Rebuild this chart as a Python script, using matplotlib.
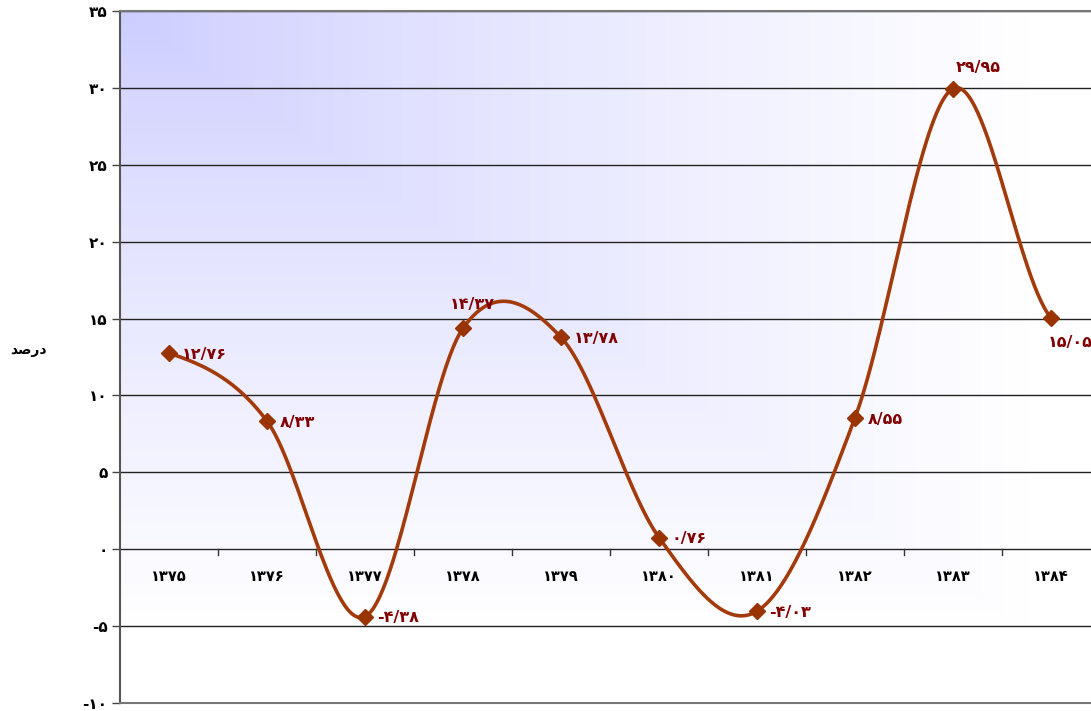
import numpy as np
import matplotlib
matplotlib.use("Agg")
import matplotlib.pyplot as plt

# ---- data ----
years = ["۱۳۷۵", "۱۳۷۶", "۱۳۷۷", "۱۳۷۸", "۱۳۷۹", "۱۳۸۰", "۱۳۸۱", "۱۳۸۲", "۱۳۸۳", "۱۳۸۴"]
values = [12.76, 8.33, -4.38, 14.37, 13.78, 0.76, -4.03, 8.55, 29.95, 15.05]
value_labels = ["۱۲/۷۶", "۸/۳۳", "-۴/۳۸", "۱۴/۳۷", "۱۳/۷۸", "۰/۷۶", "-۴/۰۳", "۸/۵۵", "۲۹/۹۵", "۱۵/۰۵"]
y_ticks = [-10, -5, 0, 5, 10, 15, 20, 25, 30, 35]
y_tick_labels = ["-۱۰", "-۵", "۰", "۵", "۱۰", "۱۵", "۲۰", "۲۵", "۳۰", "۳۵"]
y_title = "\uFEAA\uFEBB\u0631\u062F"  # درصد (shaped, visual order)

# label placement (offset in points, alignment)
label_pos = {3: ((7, 17), "center", "center"),
             8: ((18, 15), "center", "center"),
             9: ((14, -18), "center", "center")}

FONT = ["DejaVu Sans"]
W, H = 1091, 711
fig = plt.figure(figsize=(W / 100, H / 100), dpi=100)
ax = fig.add_axes([120 / W, (H - 703) / H, 980 / W, 692 / H])

x = np.arange(len(values))
y = np.array(values, dtype=float)
ax.set_xlim(-0.5, len(values) - 0.5)

# background gradient (from top-left corner)
gx = np.linspace(0, 1, 400)
gy = np.linspace(0, 1, 400)
GX, GY = np.meshgrid(gx, gy)  # row 0 = top
t = np.clip(np.maximum(GX * 1.08, GY * 1.12), 0, 1) ** 0.8
c0 = np.array([204, 204, 255]) / 255.0
c1 = np.array([255, 255, 255]) / 255.0
img = c0[None, None, :] * (1 - t[..., None]) + c1[None, None, :] * t[..., None]
ax.imshow(img, extent=(-0.5, len(values) - 0.5, -10, 35), aspect="auto", zorder=0,
          interpolation="bilinear", origin="upper")
ax.set_ylim(-10, 35)

# gridlines
for v in y_ticks:
    ax.axhline(v, color="#222222", lw=1.0, zorder=1)

# x-axis at 0 with tick marks at category boundaries
for b in x[:-1] + 0.5:
    ax.plot([b, b], [0, -0.4], color="#333333", lw=1.0, zorder=1)

# smooth curve (Catmull-Rom / Excel smoothing)
n = len(y)
m = np.zeros(n)
for i in range(n):
    lo = max(i - 1, 0)
    hi = min(i + 1, n - 1)
    m[i] = (y[hi] - y[lo]) / 2.0
xs, ys = [], []
for i in range(n - 1):
    s = np.linspace(0, 1, 60)
    h00 = 2 * s**3 - 3 * s**2 + 1
    h10 = s**3 - 2 * s**2 + s
    h01 = -2 * s**3 + 3 * s**2
    h11 = s**3 - s**2
    xs.append(x[i] + s)
    ys.append(h00 * y[i] + h10 * m[i] + h01 * y[i + 1] + h11 * m[i + 1])
xs = np.concatenate(xs)
ys = np.concatenate(ys)
ax.plot(xs, ys, color="#A33A0B", lw=2.6, zorder=3, solid_capstyle="round")
ax.plot(x, y, linestyle="none", marker="D", markersize=8, color="#993300", zorder=4)

# data labels
for i, (xi, yi, lab) in enumerate(zip(x, y, value_labels)):
    off, ha, va = label_pos.get(i, ((9, -1), "left", "center"))
    ax.annotate(lab, (xi, yi), xytext=off, textcoords="offset points", ha=ha, va=va,
                color="#800000", fontsize=11.5, fontweight="bold", family=FONT, zorder=5)

# x category labels
for xi, lab in zip(x, years):
    ax.text(xi, -1.8, lab, ha="center", va="center", fontsize=10.5, fontweight="bold",
            family=FONT, color="black", zorder=5)

# y axis
ax.set_yticks(y_ticks)
ax.set_yticklabels(y_tick_labels, fontsize=11, fontweight="bold", family=FONT)
ax.tick_params(axis="y", length=6, width=1, color="#444444", pad=3)
ax.set_xticks([])
ax.spines["right"].set_visible(False)
ax.spines["left"].set_color("#555555")
ax.spines["left"].set_linewidth(1.5)
ax.spines["top"].set_color("#777777")
ax.spines["bottom"].set_color("#777777")
ax.spines["top"].set_linewidth(1.5)
ax.spines["bottom"].set_linewidth(1.5)

fig.text(28 / W, 1 - 350 / H, y_title, ha="center", va="center", fontsize=10,
         fontweight="bold", family=FONT)

fig.savefig("out.png", dpi=100)
